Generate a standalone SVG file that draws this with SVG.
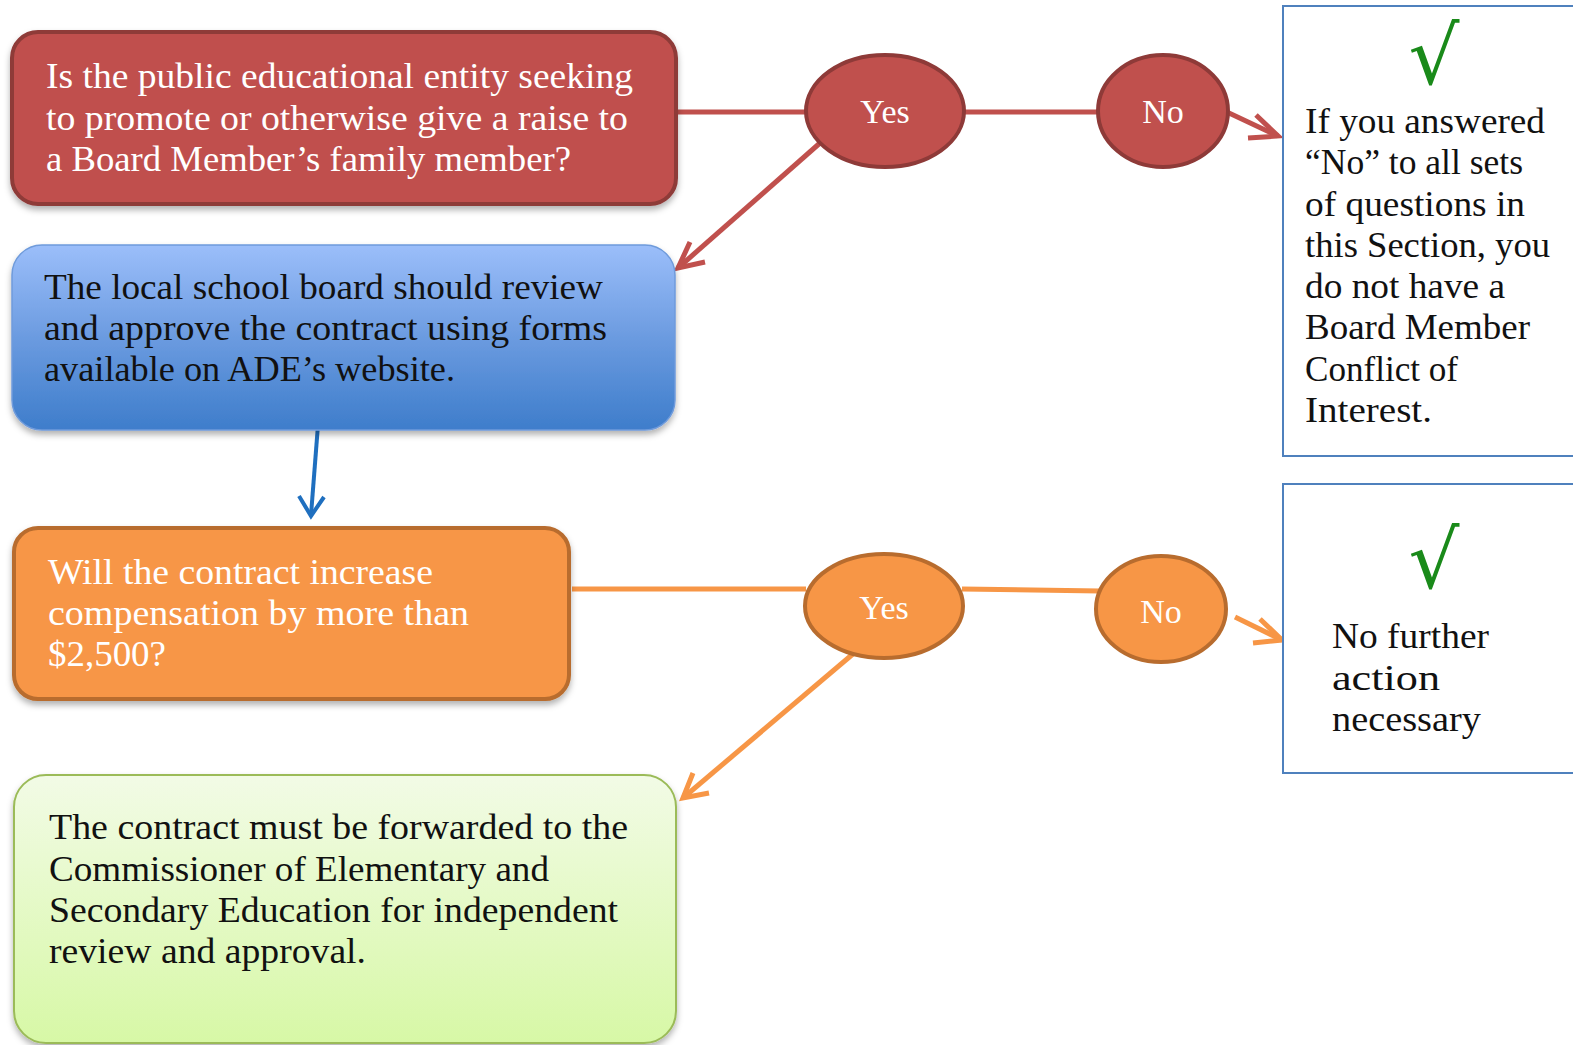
<svg xmlns="http://www.w3.org/2000/svg" width="1573" height="1045" viewBox="0 0 1573 1045">
<defs>
<style>
.t{font-family:"Liberation Serif","DejaVu Serif",serif;font-size:35px}
.e{font-family:"Liberation Serif","DejaVu Serif",serif;font-size:34px}
.w{fill:#ffffff}
.k{fill:#111111}
.chk{font-family:"DejaVu Serif","Liberation Serif",serif;font-size:80px;fill:#1a8a1a}
.red{stroke:#C0504D;stroke-width:5;fill:none}
.org{stroke:#F79646;stroke-width:5;fill:none}
.blu{stroke:#1F6FBF;stroke-width:4;fill:none}
.rbox{fill:#fff;stroke:#4F81BD;stroke-width:2}
</style>
<linearGradient id="gBlue" x1="0" y1="0" x2="0" y2="1">
<stop offset="0" stop-color="#9BBEFA"/><stop offset="0.5" stop-color="#6B9BE0"/><stop offset="1" stop-color="#3E7DCB"/>
</linearGradient>
<linearGradient id="gGreen" x1="0" y1="0" x2="0" y2="1">
<stop offset="0" stop-color="#F2FBE6"/><stop offset="1" stop-color="#D7F8A6"/>
</linearGradient>
<filter id="sh" x="-10%" y="-10%" width="120%" height="130%">
<feDropShadow dx="0" dy="4" stdDeviation="3" flood-color="#000" flood-opacity="0.3"/>
</filter>
</defs>
<rect width="1573" height="1045" fill="#ffffff"/>

<g id="connectors">
<line class="red" x1="676" y1="112" x2="808" y2="112"/>
<line class="red" x1="964" y1="112" x2="1099" y2="112"/>
<path class="red" d="M1229,113 L1278,136"/>
<path class="red" d="M1256,115 L1278,136 L1248,138"/>
<path class="red" d="M820,143 L678,268"/>
<path class="red" d="M690,242 L678,268 L705,262"/>
<path class="blu" d="M318,425 L311,515"/>
<path class="blu" d="M299,496 L311,516 L324,497"/>
<line class="org" x1="572" y1="589" x2="806" y2="589"/>
<line class="org" x1="962" y1="589" x2="1100" y2="591"/>
<path class="org" d="M1235,617 L1282,640"/>
<path class="org" d="M1260,619 L1282,640 L1253,643"/>
<path class="org" d="M860,648 L683,798"/>
<path class="org" d="M693,773 L683,798 L709,793"/>
</g>

<g id="q1">
<rect x="12" y="32" width="664" height="172" rx="26" fill="#C0504D" stroke="#8E3A38" stroke-width="4" filter="url(#sh)"/>
<text class="t w" x="46" y="88" textLength="587" lengthAdjust="spacingAndGlyphs">Is the public educational entity seeking</text>
<text class="t w" x="46" y="130" textLength="582" lengthAdjust="spacingAndGlyphs">to promote or otherwise give a raise to</text>
<text class="t w" x="46" y="171" textLength="525" lengthAdjust="spacingAndGlyphs">a Board Member’s family member?</text>
</g>

<g id="yes1">
<ellipse cx="885" cy="111" rx="79" ry="56" fill="#C0504D" stroke="#8E3A38" stroke-width="4"/>
<text class="e w" x="885" y="123" text-anchor="middle">Yes</text>
</g>
<g id="no1">
<ellipse cx="1163" cy="111" rx="65" ry="56" fill="#C0504D" stroke="#8E3A38" stroke-width="4"/>
<text class="e w" x="1163" y="123" text-anchor="middle">No</text>
</g>

<g id="end1">
<rect class="rbox" x="1283" y="6" width="300" height="450"/>
<text class="chk" x="1434" y="84" text-anchor="middle">√</text>
<text class="t k" x="1305" y="133" textLength="240" lengthAdjust="spacingAndGlyphs">If you answered</text>
<text class="t k" x="1305" y="174" textLength="218" lengthAdjust="spacingAndGlyphs">“No” to all sets</text>
<text class="t k" x="1305" y="216" textLength="220" lengthAdjust="spacingAndGlyphs">of questions in</text>
<text class="t k" x="1305" y="257" textLength="245" lengthAdjust="spacingAndGlyphs">this Section, you</text>
<text class="t k" x="1305" y="298" textLength="200" lengthAdjust="spacingAndGlyphs">do not have a</text>
<text class="t k" x="1305" y="339" textLength="225" lengthAdjust="spacingAndGlyphs">Board Member</text>
<text class="t k" x="1305" y="381" textLength="153" lengthAdjust="spacingAndGlyphs">Conflict of</text>
<text class="t k" x="1305" y="422" textLength="127" lengthAdjust="spacingAndGlyphs">Interest.</text>
</g>

<g id="review">
<rect x="12" y="245" width="663" height="185" rx="30" fill="url(#gBlue)" stroke="#6F9BDB" stroke-width="1.5" filter="url(#sh)"/>
<text class="t k" x="44" y="299" textLength="559" lengthAdjust="spacingAndGlyphs">The local school board should review</text>
<text class="t k" x="44" y="340" textLength="563" lengthAdjust="spacingAndGlyphs">and approve the contract using forms</text>
<text class="t k" x="44" y="381" textLength="411" lengthAdjust="spacingAndGlyphs">available on ADE’s website.</text>
</g>

<g id="q2">
<rect x="14" y="528" width="555" height="171" rx="24" fill="#F79646" stroke="#B86C2E" stroke-width="4" filter="url(#sh)"/>
<text class="t w" x="48" y="584" textLength="385" lengthAdjust="spacingAndGlyphs">Will the contract increase</text>
<text class="t w" x="48" y="625" textLength="421" lengthAdjust="spacingAndGlyphs">compensation by more than</text>
<text class="t w" x="48" y="666" textLength="118" lengthAdjust="spacingAndGlyphs">$2,500?</text>
</g>

<g id="yes2">
<ellipse cx="884" cy="606" rx="79" ry="52" fill="#F79646" stroke="#B86C2E" stroke-width="4"/>
<text class="e w" x="884" y="619" text-anchor="middle">Yes</text>
</g>
<g id="no2">
<ellipse cx="1161" cy="609" rx="65" ry="53" fill="#F79646" stroke="#B86C2E" stroke-width="4"/>
<text class="e w" x="1161" y="623" text-anchor="middle">No</text>
</g>

<g id="end2">
<rect class="rbox" x="1283" y="484" width="300" height="289"/>
<text class="chk" x="1434" y="588" text-anchor="middle">√</text>
<text class="t k" x="1332" y="648" textLength="157" lengthAdjust="spacingAndGlyphs">No further</text>
<text class="t k" x="1332" y="690" textLength="108" lengthAdjust="spacingAndGlyphs">action</text>
<text class="t k" x="1332" y="731" textLength="149" lengthAdjust="spacingAndGlyphs">necessary</text>
</g>

<g id="forward">
<rect x="14" y="775" width="662" height="268" rx="32" fill="url(#gGreen)" stroke="#9BBB59" stroke-width="2" filter="url(#sh)"/>
<text class="t k" x="49" y="839" textLength="579" lengthAdjust="spacingAndGlyphs">The contract must be forwarded to the</text>
<text class="t k" x="49" y="881" textLength="500" lengthAdjust="spacingAndGlyphs">Commissioner of Elementary and</text>
<text class="t k" x="49" y="922" textLength="569" lengthAdjust="spacingAndGlyphs">Secondary Education for independent</text>
<text class="t k" x="49" y="963" textLength="317" lengthAdjust="spacingAndGlyphs">review and approval.</text>
</g>
</svg>
